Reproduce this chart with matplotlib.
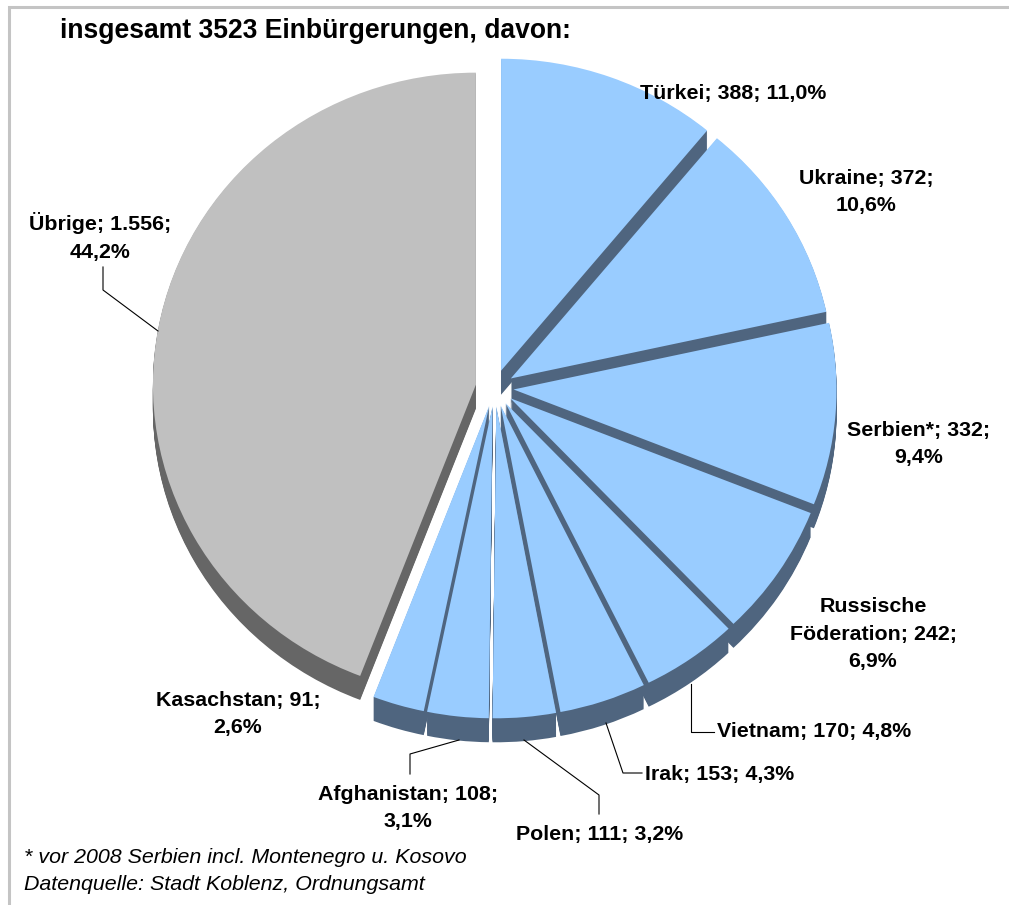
import numpy as np
import matplotlib
matplotlib.use("Agg")
import matplotlib.pyplot as plt

plt.rcParams['font.family'] = ['Liberation Sans', 'DejaVu Sans']

# Einbürgerungen nach Herkunft, clockwise from twelve o'clock
countries = ['Türkei', 'Ukraine', 'Serbien*', 'Russische Föderation', 'Vietnam',
             'Irak', 'Polen', 'Afghanistan', 'Kasachstan', 'Übrige']
counts = [388, 372, 332, 242, 170, 153, 111, 108, 91, 1556]
labels = ['Türkei; 388; 11,0%', 'Ukraine; 372;\n10,6%', 'Serbien*; 332;\n9,4%',
          'Russische\nFöderation; 242;\n6,9%', 'Vietnam; 170; 4,8%', 'Irak; 153; 4,3%',
          'Polen; 111; 3,2%', 'Afghanistan; 108;\n3,1%', 'Kasachstan; 91;\n2,6%',
          'Übrige; 1.556;\n44,2%']

title = 'insgesamt 3523 Einbürgerungen, davon:'
notes = '* vor 2008 Serbien incl. Montenegro u. Kosovo\nDatenquelle: Stadt Koblenz, Ordnungsamt'

# label centres in pixels
label_pos = [(733, 93), (866, 192), (919, 444), (873, 634), (814, 731), (720, 774),
             (600, 834), (408, 808), (238, 714), (100, 237)]

# leader lines in pixels, one polyline per labelled slice
leaders = [
    [(103, 267), (103, 290), (158, 331)],
    [(691, 684), (691, 732), (714, 732)],
    [(606, 723), (623, 773), (642, 773)],
    [(524, 740), (599, 795), (599, 814)],
    [(459, 740), (410, 754), (410, 774)],
]

W, H = 1009, 905
CX, CY = 494.6, 388.0   # pie centre in pixels
RX, RY = 323.0, 312.0   # tilted pie, slightly flattened
DEPTH = 24
EXPLODE = 19.0 / RX

LIGHT_BLUE = '#99ccff'
DARK_BLUE = '#4f657f'
GREY = '#c0c0c0'
DARK_GREY = '#666666'
FRAME = '#c4c4c4'

fig = plt.figure(figsize=(W / 100, H / 100), dpi=100, facecolor='white')

# pie axes: one data unit is one radius
ax = fig.add_axes([0, 0, 1, 1])


def draw_pie(drop, top_colors, z_offset):
    wedges, _ = ax.pie(counts, explode=[EXPLODE] * len(counts), startangle=90,
                       counterclock=False, colors=top_colors, radius=1,
                       center=(0, -drop / RY), frame=True)
    for wedge, z in zip(wedges, slice_z):
        wedge.set_zorder(z + z_offset)
        wedge.set_linewidth(0)
    return wedges


# back slices first, so the walls of the front slices overlap them
mids = (np.cumsum(counts) - np.array(counts) / 2) / sum(counts) * 2 * np.pi
slice_z = 10 + 2 * (-np.cos(mids))

wall_colors = [DARK_BLUE] * 9 + [DARK_GREY]
top_colors = [LIGHT_BLUE] * 9 + [GREY]
for drop in np.arange(DEPTH, 0, -1):
    draw_pie(drop, wall_colors, 0.0)
draw_pie(0, top_colors, 0.1)

ax.set_aspect('auto')
ax.set_xlim(-CX / RX, (W - CX) / RX)
ax.set_ylim((CY - H) / RY, CY / RY)
ax.axis('off')

# overlay in pixel coordinates for frame, leaders and text
ov = fig.add_axes([0, 0, 1, 1], facecolor='none')
ov.set_xlim(0, W)
ov.set_ylim(H, 0)
ov.axis('off')

ov.plot([8.5, 8.5, W + 5], [H + 5, 7.5, 7.5], color=FRAME, lw=2.2, solid_capstyle='butt',
        solid_joinstyle='miter', zorder=30)

for line in leaders:
    xs, ys = zip(*line)
    ov.plot(xs, ys, color='black', lw=0.8, zorder=31)

for text, (x, y) in zip(labels, label_pos):
    ov.text(x, y, text, ha='center', va='center', fontsize=15.4, fontweight='bold',
            linespacing=1.57, color='black', zorder=32)

ov.text(60, 31, title, ha='left', va='center', fontsize=19.1, fontweight='bold', color='black')
ov.text(24, 871, notes, ha='left', va='center', fontsize=15.4, style='italic',
        linespacing=1.53, color='black')

fig.savefig('out.png', dpi=100)
